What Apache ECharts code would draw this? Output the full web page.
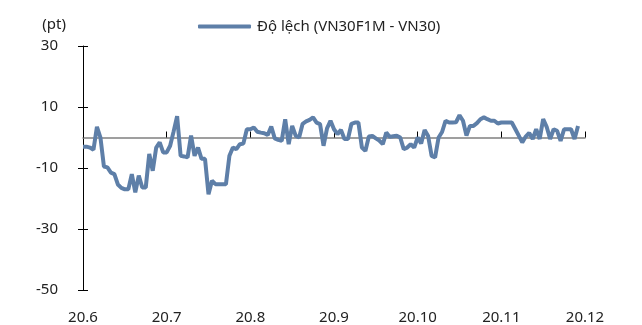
<!DOCTYPE html>
<html>
<head>
<meta charset="utf-8">
<script src="https://cdn.jsdelivr.net/npm/echarts@6/dist/echarts.min.js"></script>
<style>
  html, body { margin: 0; padding: 0; background: #fff; }
  #chart { width: 642px; height: 325px; }
</style>
</head>
<body>
<div id="chart"></div>
<script>
// nhãn trục x (đầu mỗi tháng) và số điểm mỗi tháng
const monthLabels = ['20.6', '20.7', '20.8', '20.9', '20.10', '20.11', '20.12'];
const pointsPerMonth = 24;
const yTicks = [-50, -30, -10, 10, 30];
const seriesName = 'Độ lệch (VN30F1M - VN30)';

// độ lệch theo tháng (pt)
const jun = [-3, -3, -3.3, -4, 3.5, 0, -9.5, -9.8, -11.5, -12, -15.4, -16.5,
    -17, -17, -12, -18, -12.5, -16.4, -16.4, -5.4, -10.9, -3.3, -1.6, -4.9];
const jul = [-4.9, -2.7, 2, 7, -6, -6.2, -6.5, 0.6, -6, -3.3, -7, -7,
    -18.6, -14.2, -15.3, -15.3, -15.3, -15.3, -6, -3.3, -3.8, -2.2, -2, 2.7];
const aug = [2.7, 3.3, 1.9, 1.6, 1.4, 0.8, 3.6, -0.3, -0.8, -1.1, 6, -2.2,
    3.8, 0.6, 0, 4.5, 5.3, 5.8, 6.6, 4.9, 4.4, -2.7, 3, 5.5];
const sep = [2.7, 1.1, 2.5, -0.5, -0.5, 4.5, 4.9, 4.9, -3.3, -4.4, 0.3, 0.5,
    -0.3, -1, -2.2, 1.6, 0.2, 0.4, 0.6, 0, -3.8, -3.3, -2.2, -3.3];
const oct = [0, -2, 2.5, 0.5, -6, -6.5, 0, 1.8, 5.5, 4.9, 4.9, 5,
    7.3, 5.5, 0.6, 3.8, 3.8, 4.7, 6, 6.6, 6, 5.5, 5.5, 4.6];
const nov = [4.9, 4.9, 4.9, 4.9, 2.8, 0.6, -1.6, 0.3, 1.5, -0.5, 2.7, -0.5,
    6, 3.5, -0.5, 2.7, 2.2, -1.1, 2.7, 2.7, 2.7, -0.5, 3.8];

const values = [].concat(jun, jul, aug, sep, oct, nov);

// danh mục: mỗi tháng pointsPerMonth điểm, điểm cuối là đầu tháng 12
const categories = [];
monthLabels.forEach(function (m, i) {
    const n = i < monthLabels.length - 1 ? pointsPerMonth : 1;
    for (let d = 0; d < n; d++) {
        categories.push(d === 0 ? m : m + '#' + d);
    }
});

const isMonthStart = function (idx) { return idx % pointsPerMonth === 0; };
const FONT = 'Noto Sans';
const LINE_COLOR = '#5E7FA8';

const chart = echarts.init(document.getElementById('chart'));

chart.setOption({
    animation: false,
    textStyle: { fontFamily: FONT, color: '#222' },
    legend: {
        left: 193,
        top: 14,
        icon: 'roundRect',
        itemWidth: 53,
        itemHeight: 4,
        itemGap: 5,
        textStyle: { fontSize: 15, color: '#222', fontFamily: FONT, padding: [0, 0, 0, 1] },
        data: [seriesName]
    },
    grid: { left: 83, right: 57, top: 46, bottom: 35, containLabel: false },
    xAxis: [{
        type: 'category',
        data: categories,
        boundaryGap: false,
        position: 'bottom',
        axisLine: { show: false, onZero: false },
        axisTick: { show: false },
        splitLine: { show: false },
        axisLabel: {
            interval: isMonthStart,
            margin: 20,
            fontSize: 15,
            color: '#222',
            formatter: function (v) { return v.split('#')[0]; }
        }
    }, {
        type: 'category',
        data: categories,
        boundaryGap: false,
        position: 'bottom',
        axisLine: { show: true, onZero: true, onZeroAxisIndex: 0, lineStyle: { color: '#808080', width: 1.5 } },
        axisTick: { show: true, inside: true, length: 6, interval: isMonthStart, lineStyle: { color: '#000' } },
        axisLabel: { show: false },
        splitLine: { show: false }
    }],
    yAxis: [{
        type: 'value',
        min: -50,
        max: 30,
        position: 'left',
        name: '(pt)',
        nameLocation: 'end',
        nameGap: 14,
        nameTextStyle: { fontSize: 15, color: '#222', align: 'right', padding: [0, 17, 0, 0] },
        axisLine: { show: true, onZero: false, lineStyle: { color: '#000' } },
        axisTick: { show: true, length: 5, customValues: yTicks, lineStyle: { color: '#000' } },
        axisLabel: { customValues: yTicks, margin: 25, fontSize: 15, color: '#222' },
        splitLine: { show: false }
    }, {
        type: 'value',
        min: -50,
        max: 30,
        position: 'left',
        axisLine: { show: false, onZero: false },
        axisTick: { show: true, inside: true, length: 5, customValues: yTicks, lineStyle: { color: '#000' } },
        axisLabel: { show: false },
        splitLine: { show: false }
    }],
    series: [{
        name: seriesName,
        type: 'line',
        xAxisIndex: 0,
        yAxisIndex: 0,
        data: values,
        symbol: 'none',
        lineStyle: { color: LINE_COLOR, width: 4 },
        itemStyle: { color: LINE_COLOR },
        z: 3
    }]
});
</script>
</body>
</html>
